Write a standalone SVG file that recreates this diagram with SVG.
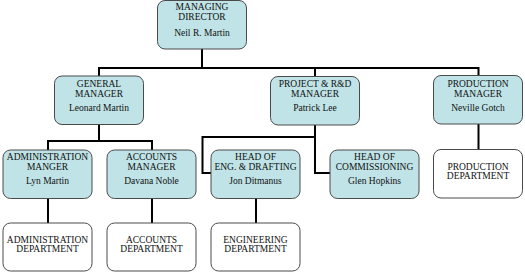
<svg xmlns="http://www.w3.org/2000/svg" width="525" height="278" viewBox="0 0 525 278">
<style>
.box{fill:#bfe3e6;stroke:#4a4a4a;stroke-width:1}
.dept{fill:#ffffff;stroke:#4a4a4a;stroke-width:1}
text{font-family:"Liberation Serif","Times New Roman",serif;font-size:9.5px;fill:#111;text-anchor:middle}
.conn{fill:none;stroke:#000;stroke-width:2}
</style>
<rect width="525" height="278" fill="#fff"/>
<g id="connectors" class="conn">
<path d="M202 49V68M99 68H479M99 67V76M315 67V76M478.5 67V76"/>
<path d="M99 125V141H48V150M99 141H152V150"/>
<path d="M315 125V173H330M315 137H202.5V173H211"/>
<path d="M478.5 124V150"/>
<path d="M48 198V223M152 198V223M256 198V223"/>
</g>
<g id="md"><rect class="box" x="157.5" y="0.5" width="89" height="48.5" rx="7.5"/><text x="202" y="10">MANAGING</text><text x="202" y="19.5">DIRECTOR</text><text x="202" y="36">Neil R. Martin</text></g>
<g id="gm"><rect class="box" x="54.5" y="76" width="89" height="48.5" rx="7.5"/><text x="99" y="86.5">GENERAL</text><text x="99" y="96.5">MANAGER</text><text x="99" y="111">Leonard Martin</text></g>
<g id="prd"><rect class="box" x="270.5" y="76.5" width="89" height="48.5" rx="7.5"/><text x="315" y="86.5">PROJECT &amp; R&amp;D</text><text x="315" y="96.5">MANAGER</text><text x="315" y="111">Patrick Lee</text></g>
<g id="pm"><rect class="box" x="433.5" y="75.5" width="89" height="48.5" rx="7.5"/><text x="478" y="86.5">PRODUCTION</text><text x="478" y="96.5">MANAGER</text><text x="478" y="111">Neville Gotch</text></g>
<g id="am"><rect class="box" x="3" y="150" width="89" height="48.5" rx="7.5"/><text x="47.5" y="160">ADMINISTRATION</text><text x="47.5" y="170">MANGER</text><text x="47.5" y="184">Lyn Martin</text></g>
<g id="acm"><rect class="box" x="107" y="150" width="89" height="48.5" rx="7.5"/><text x="151.5" y="160">ACCOUNTS</text><text x="151.5" y="170">MANAGER</text><text x="151.5" y="184">Davana Noble</text></g>
<g id="hoe"><rect class="box" x="211" y="150" width="89" height="48.5" rx="7.5"/><text x="255.5" y="160">HEAD OF</text><text x="255.5" y="170">ENG. &amp; DRAFTING</text><text x="255.5" y="184">Jon Ditmanus</text></g>
<g id="hoc"><rect class="box" x="330" y="150" width="89" height="48.5" rx="7.5"/><text x="374.5" y="160">HEAD OF</text><text x="374.5" y="170">COMMISSIONING</text><text x="374.5" y="184">Glen Hopkins</text></g>
<g id="pd"><rect class="dept" x="433.5" y="149.5" width="89" height="48.5" rx="7.5"/><text x="478" y="169.5">PRODUCTION</text><text x="478" y="179">DEPARTMENT</text></g>
<g id="ad"><rect class="dept" x="3" y="223" width="89" height="48" rx="7.5"/><text x="47.5" y="243">ADMINISTRATION</text><text x="47.5" y="252">DEPARTMENT</text></g>
<g id="acd"><rect class="dept" x="107" y="223" width="89" height="48" rx="7.5"/><text x="151.5" y="243">ACCOUNTS</text><text x="151.5" y="252">DEPARTMENT</text></g>
<g id="ed"><rect class="dept" x="211" y="223" width="89" height="48" rx="7.5"/><text x="255.5" y="243">ENGINEERING</text><text x="255.5" y="252">DEPARTMENT</text></g>
</svg>
